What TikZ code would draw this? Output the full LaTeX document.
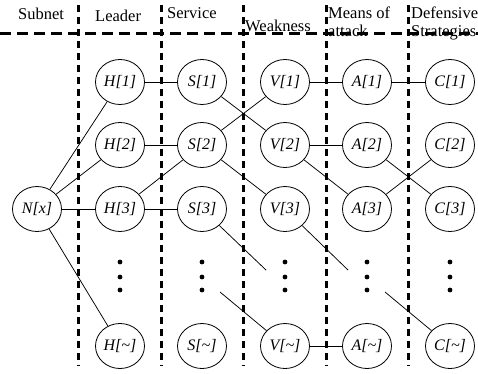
\documentclass[tikz,border=0pt]{standalone}
\usepackage{fontspec}
\setmainfont{Liberation Serif}
\usetikzlibrary{shapes.geometric}
\begin{document}
\begin{tikzpicture}[x=1pt,y=-1pt,
  vnode/.style={draw,ellipse,line width=0.8pt,minimum width=49pt,minimum height=45pt,inner sep=0pt,font=\fontsize{16}{18}\selectfont\itshape},
  head/.style={anchor=base west,inner sep=0pt,font=\fontsize{16.5}{18}\selectfont},
  vdash/.style={line width=3pt,dash pattern=on 7pt off 5pt},
  hdash/.style={line width=3pt,dash pattern=on 11pt off 6pt},
  edge/.style={line width=0.75pt},
  dotmark/.style={fill,circle,inner sep=0pt,minimum size=4.8pt}]
\useasboundingbox (0,0) rectangle (478,373);
% dashed separators
\foreach \xx in {78,161,243,326,408}{
  \draw[vdash] (\xx,5) -- (\xx,366);
}
\draw[hdash] (0,33) -- (478,33);
% headers
\node[head] (hsub) at (18,19) {Subnet};
\node[head] (hlea) at (95,21) {Leader};
\node[head] (hser) at (167,18) {Service};
\node[head] (hwea) at (245,31) {Weakness};
\node[head] (hmea) at (328,18) {Means of};
\node[head] (hatt) at (328,36) {attack};
\node[head] (hdef) at (411,18) {Defensive};
\node[head] (hstr) at (411,36) {Strategies};
% nodes
\node[vnode] (N) at (37,209) {N[x]};
\foreach \c/\xx in {H/120,S/202,V/285,A/367,C/450}{
  \node[vnode] (\c1) at (\xx,82) {\c[1]};
  \node[vnode] (\c2) at (\xx,145) {\c[2]};
  \node[vnode] (\c3) at (\xx,209) {\c[3]};
  \node[vnode] (\c4) at (\xx,346) {\c[\textasciitilde]};
  \node[dotmark] (\c d1) at (\xx,262) {};
  \node[dotmark] (\c d2) at (\xx,277) {};
  \node[dotmark] (\c d3) at (\xx,290) {};
}
% free ends
\coordinate (e1) at (266,270);
\coordinate (e2) at (220,292);
\coordinate (e3) at (348,270);
\coordinate (e4) at (385,292);
% edges
\draw[edge] (N) -- (H1);
\draw[edge] (N) -- (H2);
\draw[edge] (N) -- (H3);
\draw[edge] (N) -- (H4);
\draw[edge] (H1) -- (S1);
\draw[edge] (H2) -- (S2);
\draw[edge] (H3) -- (S3);
\draw[edge] (H3) -- (S2);
\draw[edge] (S1) -- (V2);
\draw[edge] (S2) -- (V1);
\draw[edge] (S2) -- (V3);
\draw[edge] (S3) -- (e1);
\draw[edge] (e2) -- (V4);
\draw[edge] (V1) -- (A1);
\draw[edge] (A1) -- (C1);
\draw[edge] (V2) -- (A2);
\draw[edge] (V2) -- (A3);
\draw[edge] (A2) -- (C3);
\draw[edge] (A3) -- (C2);
\draw[edge] (V3) -- (e3);
\draw[edge] (e4) -- (C4);
\draw[edge] (V4) -- (A4);
\end{tikzpicture}
\end{document}
